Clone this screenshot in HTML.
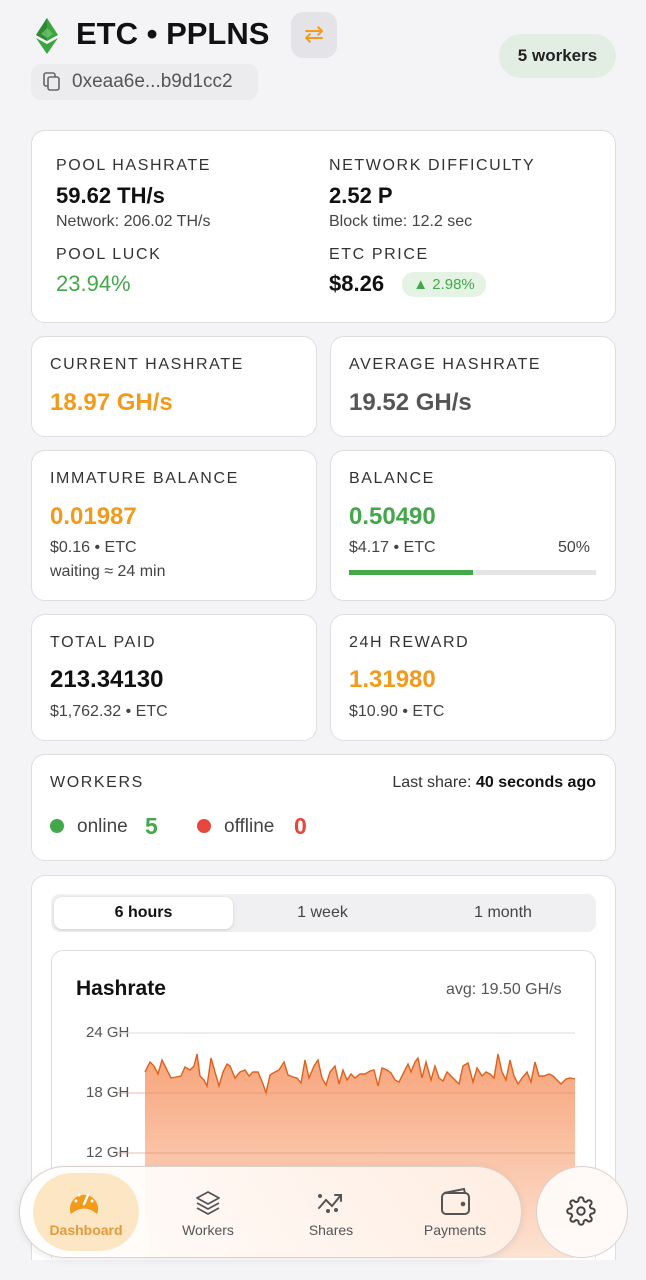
<!DOCTYPE html>
<html style="width:646px;height:1280px;overflow:hidden"><head><meta charset="utf-8"><style>
*{box-sizing:border-box;margin:0;padding:0}
body{width:646px;height:1280px;background:#f4f4f6;font-family:"Liberation Sans",sans-serif;position:relative;overflow:hidden;color:#111}
.a{position:absolute}
.card{position:absolute;background:#fff;border:1px solid #dedee2;border-radius:14px}
.lbl{position:absolute;font-size:16px;letter-spacing:1.6px;color:#333}
.val{position:absolute;font-size:24px;font-weight:bold}
.sub{position:absolute;font-size:16px;color:#444}
.or{color:#f29a1a}.gr{color:#43a84a}.gy{color:#555}
</style></head><body>
<svg class="a" style="left:36px;top:18px" width="22" height="36" viewBox="0 0 22 36"><polygon points="11,0 22,17 11,23 0,17" fill="#3ca540"/><polygon points="11,0 11,23 0,17" fill="#2e8a36"/><polygon points="0,20 11,26 22,20 11,36" fill="#3ca540"/><polygon points="11,10 17,16 11,20 5,16" fill="#7ed07e" opacity=".6"/></svg>
<div class="a" style="left:76px;top:16px;font-size:31px;font-weight:bold">ETC • PPLNS</div>
<div class="a" style="left:291px;top:12px;width:46px;height:46px;border-radius:12px;background:#e4e4e8;color:#f29a1a;font-size:24px;text-align:center;line-height:46px">⇄</div>
<div class="a" style="left:31px;top:64px;width:227px;height:36px;border-radius:10px;background:#ececef"></div>
<svg class="a" style="left:43px;top:72px" width="18" height="20"><rect x="1" y="1" width="11" height="13" rx="2" fill="none" stroke="#666" stroke-width="1.6"/><rect x="5" y="5" width="11" height="13" rx="2" fill="#ececef" stroke="#666" stroke-width="1.6"/></svg>
<div class="a" style="left:72px;top:71px;font-size:19px;color:#555">0xeaa6e...b9d1cc2</div>
<div class="a" style="left:499px;top:34px;width:117px;height:44px;border-radius:22px;background:#e2eee3;font-size:17px;font-weight:bold;text-align:center;line-height:44px;color:#222">5 workers</div>

<div class="card" style="left:31px;top:130px;width:585px;height:193px"></div>
<div class="lbl" style="left:56px;top:157px">POOL HASHRATE</div>
<div class="val" style="left:56px;top:183px;font-size:22px">59.62 TH/s</div>
<div class="sub" style="left:56px;top:213px">Network: 206.02 TH/s</div>
<div class="lbl" style="left:56px;top:246px">POOL LUCK</div>
<div class="val gr" style="left:56px;top:271px;font-size:22px;font-weight:normal">23.94%</div>
<div class="lbl" style="left:329px;top:157px">NETWORK DIFFICULTY</div>
<div class="val" style="left:329px;top:183px;font-size:22px">2.52 P</div>
<div class="sub" style="left:329px;top:213px">Block time: 12.2 sec</div>
<div class="lbl" style="left:329px;top:246px">ETC PRICE</div>
<div class="val" style="left:329px;top:271px;font-size:22px">$8.26</div>
<div class="a gr" style="left:402px;top:272px;width:84px;height:25px;border-radius:12px;background:#e5f3e5;font-size:15px;line-height:25px;text-align:center">▲ 2.98%</div>

<div class="card" style="left:31px;top:336px;width:286px;height:101px"></div>
<div class="lbl" style="left:50px;top:356px">CURRENT HASHRATE</div>
<div class="val or" style="left:50px;top:389px">18.97 GH/s</div>
<div class="card" style="left:330px;top:336px;width:286px;height:101px"></div>
<div class="lbl" style="left:349px;top:356px">AVERAGE HASHRATE</div>
<div class="val gy" style="left:349px;top:389px">19.52 GH/s</div>

<div class="card" style="left:31px;top:450px;width:286px;height:151px"></div>
<div class="lbl" style="left:50px;top:470px">IMMATURE BALANCE</div>
<div class="val or" style="left:50px;top:503px">0.01987</div>
<div class="sub" style="left:50px;top:539px">$0.16 • ETC</div>
<div class="sub" style="left:50px;top:563px">waiting ≈ 24 min</div>
<div class="card" style="left:330px;top:450px;width:286px;height:151px"></div>
<div class="lbl" style="left:349px;top:470px">BALANCE</div>
<div class="val gr" style="left:349px;top:503px">0.50490</div>
<div class="sub" style="left:349px;top:539px">$4.17 • ETC</div>
<div class="sub" style="left:558px;top:539px">50%</div>
<div class="a" style="left:349px;top:570px;width:247px;height:5px;background:#e5e5e5"><div style="width:50%;height:5px;background:#43a84a"></div></div>

<div class="card" style="left:31px;top:614px;width:286px;height:127px"></div>
<div class="lbl" style="left:50px;top:634px">TOTAL PAID</div>
<div class="val" style="left:50px;top:666px">213.34130</div>
<div class="sub" style="left:50px;top:703px">$1,762.32 • ETC</div>
<div class="card" style="left:330px;top:614px;width:286px;height:127px"></div>
<div class="lbl" style="left:349px;top:634px">24H REWARD</div>
<div class="val or" style="left:349px;top:666px">1.31980</div>
<div class="sub" style="left:349px;top:703px">$10.90 • ETC</div>

<div class="card" style="left:31px;top:754px;width:585px;height:107px"></div>
<div class="lbl" style="left:50px;top:774px">WORKERS</div>
<div class="sub" style="right:50px;top:774px;color:#333">Last share: <b style="color:#111">40 seconds ago</b></div>
<div class="a" style="left:50px;top:819px;width:14px;height:14px;border-radius:7px;background:#43a84a"></div>
<div class="a" style="left:77px;top:816px;font-size:19px;color:#444">online</div>
<div class="a gr" style="left:145px;top:813px;font-size:23px;font-weight:bold">5</div>
<div class="a" style="left:197px;top:819px;width:14px;height:14px;border-radius:7px;background:#e8453c"></div>
<div class="a" style="left:224px;top:816px;font-size:19px;color:#444">offline</div>
<div class="a" style="left:294px;top:813px;font-size:23px;font-weight:bold;color:#e8453c">0</div>

<div class="card" style="left:31px;top:875px;width:585px;height:385px;border-bottom:none;border-radius:14px 14px 0 0"></div>
<div class="a" style="left:51px;top:894px;width:545px;height:38px;border-radius:9px;background:#f0f0f2"></div>
<div class="a" style="left:54px;top:897px;width:179px;height:32px;border-radius:8px;background:#fff;box-shadow:0 1px 3px rgba(0,0,0,.15);font-size:16px;font-weight:bold;text-align:center;line-height:32px">6 hours</div>
<div class="a" style="left:233px;top:897px;width:179px;line-height:32px;text-align:center;font-size:16px;color:#444">1 week</div>
<div class="a" style="left:412px;top:897px;width:182px;line-height:32px;text-align:center;font-size:16px;color:#444">1 month</div>
<div class="card" style="left:51px;top:950px;width:545px;height:308px;border-radius:12px 12px 0 0;border-bottom:none"></div>
<div class="a" style="left:76px;top:977px;font-size:21px;font-weight:bold">Hashrate</div>
<div class="a" style="left:446px;top:981px;font-size:16px;color:#555">avg: 19.50 GH/s</div>
<div class="a" style="left:86px;top:1024px;font-size:15px;color:#555">24 GH</div>
<div class="a" style="left:86px;top:1084px;font-size:15px;color:#555">18 GH</div>
<div class="a" style="left:86px;top:1144px;font-size:15px;color:#555">12 GH</div>
<svg class="a" style="left:0;top:1000px" width="646" height="258">
<defs><linearGradient id="g" x1="0" y1="0" x2="0" y2="1"><stop offset="0" stop-color="#f7a47a"/><stop offset="1" stop-color="#fde3d4"/></linearGradient></defs>
<line x1="117" y1="33" x2="575" y2="33" stroke="#ddd"/>
<path d="M145,72 L150,62 L154,66 L158,74 L162,60 L166,68 L171,78 L176,77 L181,76 L185,67 L190,70 L194,66 L197,54 L200,76 L204,80 L207,86 L211,58 L215,72 L219,86 L223,72 L227,64 L230,66 L235,78 L240,72 L245,70 L249,76 L253,72 L258,72 L263,84 L266,93 L270,75 L275,72 L279,70 L284,62 L288,75 L293,77 L297,78 L301,83 L305,60 L309,78 L314,66 L318,60 L322,78 L326,85 L330,72 L335,66 L339,84 L343,70 L347,80 L351,74 L355,78 L360,74 L365,74 L370,71 L374,70 L378,86 L382,68 L387,70 L391,73 L395,80 L399,82 L404,72 L408,64 L411,72 L415,62 L418,58 L422,78 L426,62 L431,80 L435,66 L439,78 L443,81 L447,72 L451,76 L455,80 L459,84 L463,66 L468,63 L473,82 L477,68 L482,76 L486,72 L490,74 L494,78 L498,54 L502,72 L506,80 L510,60 L514,76 L518,84 L522,78 L527,72 L531,82 L535,62 L539,76 L544,76 L549,74 L553,76 L557,80 L561,84 L566,79 L570,78 L575,79 L575,258 L145,258 Z" fill="url(#g)"/>
<path d="M145,72 L150,62 L154,66 L158,74 L162,60 L166,68 L171,78 L176,77 L181,76 L185,67 L190,70 L194,66 L197,54 L200,76 L204,80 L207,86 L211,58 L215,72 L219,86 L223,72 L227,64 L230,66 L235,78 L240,72 L245,70 L249,76 L253,72 L258,72 L263,84 L266,93 L270,75 L275,72 L279,70 L284,62 L288,75 L293,77 L297,78 L301,83 L305,60 L309,78 L314,66 L318,60 L322,78 L326,85 L330,72 L335,66 L339,84 L343,70 L347,80 L351,74 L355,78 L360,74 L365,74 L370,71 L374,70 L378,86 L382,68 L387,70 L391,73 L395,80 L399,82 L404,72 L408,64 L411,72 L415,62 L418,58 L422,78 L426,62 L431,80 L435,66 L439,78 L443,81 L447,72 L451,76 L455,80 L459,84 L463,66 L468,63 L473,82 L477,68 L482,76 L486,72 L490,74 L494,78 L498,54 L502,72 L506,80 L510,60 L514,76 L518,84 L522,78 L527,72 L531,82 L535,62 L539,76 L544,76 L549,74 L553,76 L557,80 L561,84 L566,79 L570,78 L575,79" fill="none" stroke="#e0601a" stroke-width="1.4"/>
<line x1="117" y1="93" x2="575" y2="93" stroke="#d9937a" stroke-opacity=".6"/>
<line x1="117" y1="153" x2="575" y2="153" stroke="#d9937a" stroke-opacity=".6"/>
</svg>
<div class="a" style="left:19px;top:1166px;width:503px;height:92px;border-radius:46px;background:linear-gradient(90deg,rgba(255,255,255,.95),rgba(255,240,230,.92));border:1px solid #d8d0cc;box-shadow:0 2px 8px rgba(0,0,0,.08)"></div>
<div class="a" style="left:33px;top:1173px;width:106px;height:78px;border-radius:39px;background:#fde6c4"></div>
<svg class="a" style="left:68px;top:1187px" width="32" height="30" viewBox="0 0 32 30"><path d="M3,27 A14,14 0 1 1 29,27 Q16,16 3,27 Z" fill="#f29a1a"/><line x1="16" y1="17" x2="20" y2="8" stroke="#fff" stroke-width="2.4" stroke-linecap="round"/><circle cx="8" cy="14" r="1.5" fill="#fff"/><circle cx="11" cy="8" r="1.5" fill="#fff"/><circle cx="24" cy="14" r="1.5" fill="#fff"/></svg>
<div class="a" style="left:33px;top:1222px;width:106px;text-align:center;font-size:14px;font-weight:bold;color:#e49a3a">Dashboard</div>
<svg class="a" style="left:194px;top:1189px" width="28" height="28" viewBox="0 0 28 28" fill="none" stroke="#555" stroke-width="1.8" stroke-linejoin="round"><polygon points="14,3 25,9 14,15 3,9"/><polyline points="3,14 14,20 25,14"/><polyline points="3,19 14,25 25,19"/></svg>
<div class="a" style="left:158px;top:1222px;width:100px;text-align:center;font-size:14px;color:#555">Workers</div>
<svg class="a" style="left:316px;top:1190px" width="30" height="26" viewBox="0 0 30 26" fill="none" stroke="#555" stroke-width="2" stroke-linecap="round"><polyline points="3,18 10,10 16,16 25,5"/><polyline points="19,5 25,5 25,11"/><circle cx="4" cy="6" r="1" fill="#555"/><circle cx="12" cy="21" r="1" fill="#555"/><circle cx="20" cy="20" r="1" fill="#555"/></svg>
<div class="a" style="left:281px;top:1222px;width:100px;text-align:center;font-size:14px;color:#555">Shares</div>
<svg class="a" style="left:440px;top:1188px" width="32" height="28" viewBox="0 0 32 28" fill="none" stroke="#555" stroke-width="2"><rect x="2" y="5" width="27" height="21" rx="4"/><path d="M4,5 L24,1 L25,5"/><circle cx="23" cy="16" r="1.3" fill="#555"/></svg>
<div class="a" style="left:405px;top:1222px;width:100px;text-align:center;font-size:14px;color:#555">Payments</div>
<div class="a" style="left:536px;top:1166px;width:92px;height:92px;border-radius:46px;background:rgba(255,250,248,.97);border:1px solid #d8d0cc"></div>
<svg class="a" style="left:566px;top:1196px" width="30" height="30" viewBox="0 0 24 24" fill="none" stroke="#444" stroke-width="1.6"><circle cx="12" cy="12" r="3"/><path d="M19.4 15a1.7 1.7 0 0 0 .3 1.8l.1.1a2 2 0 1 1-2.8 2.8l-.1-.1a1.7 1.7 0 0 0-1.800-.3 1.700 1.700 0 0 0-1 1.5V21a2 2 0 1 1-4 0v-.1a1.7 1.7 0 0 0-1.100-1.500 1.700 1.700 0 0 0-1.800.3l-.1.1a2 2 0 1 1-2.800-2.800l.1-.1a1.7 1.7 0 0 0 .3-1.800 1.700 1.700 0 0 0-1.500-1H3a2 2 0 1 1 0-4h.1a1.7 1.7 0 0 0 1.500-1.100 1.700 1.700 0 0 0-.3-1.800l-.1-.1a2 2 0 1 1 2.800-2.800l.1.1a1.7 1.7 0 0 0 1.800.3H9a1.7 1.7 0 0 0 1-1.500V3a2 2 0 1 1 4 0v.1a1.7 1.7 0 0 0 1 1.500 1.700 1.700 0 0 0 1.800-.3l.1-.1a2 2 0 1 1 2.800 2.800l-.1.1a1.7 1.7 0 0 0-.3 1.800V9a1.7 1.7 0 0 0 1.500 1H21a2 2 0 1 1 0 4h-.1a1.7 1.7 0 0 0-1.500 1z"/></svg>
</body></html>
